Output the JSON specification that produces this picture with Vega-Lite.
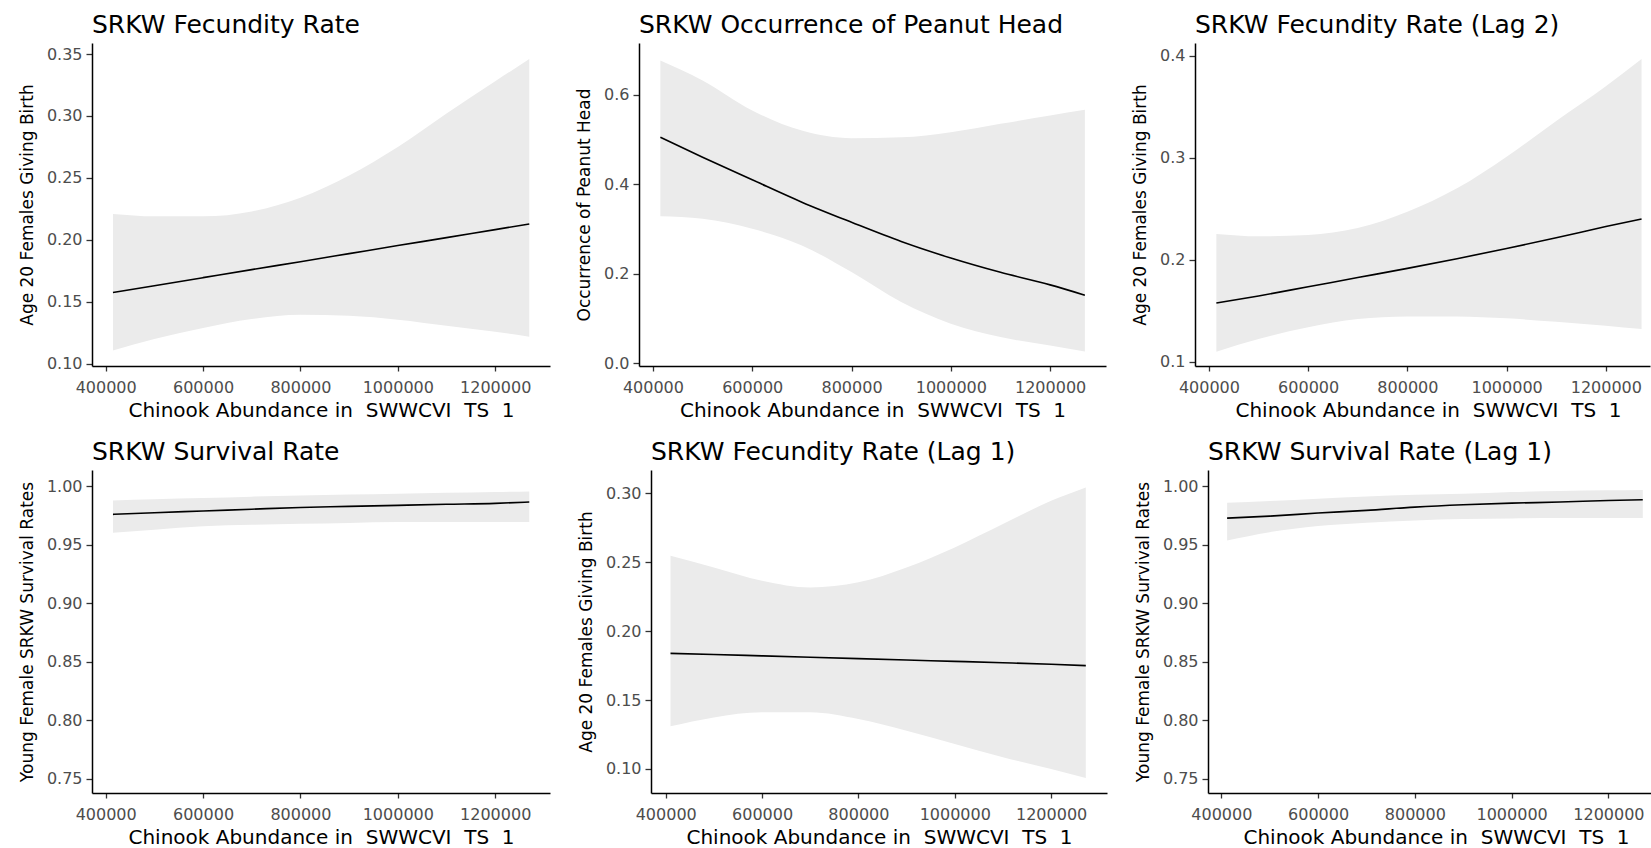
{
  "$schema": "https://vega.github.io/schema/vega-lite/v6.json",
  "background": "white",
  "padding": {"left": 18, "top": 13, "right": 0, "bottom": 0},
  "config": {
    "font": "DejaVu Sans",
    "view": {"stroke": null},
    "axis": {"grid": false, "domainColor": "#000000", "domainWidth": 1.5, "tickColor": "#333333", "tickWidth": 1.3, "labelFont": "DejaVu Sans", "labelFontSize": 16, "labelColor": "#4D4D4D", "titleFont": "DejaVu Sans", "titleFontWeight": "normal", "titleColor": "#000000"},
    "axisX": {"titleFontSize": 20, "tickSize": 5, "labelPadding": 8, "titlePadding": 5, "labelFlush": false},
    "axisY": {"titleFontSize": 17, "tickSize": 6, "labelPadding": 4, "titlePadding": 10},
    "title": {"font": "DejaVu Sans", "fontSize": 25, "fontWeight": "normal", "anchor": "start", "color": "#000000", "offset": 5, "frame": "group"}
  },
  "datasets": {
    "p1": [
      {"x": 415000, "lower": 0.1107, "fit": 0.1575, "upper": 0.2209},
      {"x": 500000, "lower": 0.1200, "fit": 0.1630, "upper": 0.2190},
      {"x": 600000, "lower": 0.1289, "fit": 0.1695, "upper": 0.2190},
      {"x": 700000, "lower": 0.1361, "fit": 0.1760, "upper": 0.2230},
      {"x": 800000, "lower": 0.1396, "fit": 0.1824, "upper": 0.2340},
      {"x": 900000, "lower": 0.1388, "fit": 0.1889, "upper": 0.2520},
      {"x": 1000000, "lower": 0.1356, "fit": 0.1954, "upper": 0.2750},
      {"x": 1100000, "lower": 0.1307, "fit": 0.2018, "upper": 0.3020},
      {"x": 1200000, "lower": 0.1259, "fit": 0.2083, "upper": 0.3280},
      {"x": 1270000, "lower": 0.1219, "fit": 0.2128, "upper": 0.3460}
    ],
    "p2": [
      {"x": 415000, "lower": 0.3287, "fit": 0.5053, "upper": 0.6768},
      {"x": 500000, "lower": 0.3227, "fit": 0.4606, "upper": 0.6320},
      {"x": 600000, "lower": 0.3004, "fit": 0.4100, "upper": 0.5650},
      {"x": 700000, "lower": 0.2631, "fit": 0.3600, "upper": 0.5200},
      {"x": 800000, "lower": 0.2035, "fit": 0.3150, "upper": 0.5030},
      {"x": 900000, "lower": 0.1364, "fit": 0.2720, "upper": 0.5050},
      {"x": 1000000, "lower": 0.0880, "fit": 0.2350, "upper": 0.5165},
      {"x": 1100000, "lower": 0.0581, "fit": 0.2030, "upper": 0.5352},
      {"x": 1200000, "lower": 0.0395, "fit": 0.1750, "upper": 0.5538},
      {"x": 1270000, "lower": 0.0261, "fit": 0.1520, "upper": 0.5665}
    ],
    "p3": [
      {"x": 415000, "lower": 0.1098, "fit": 0.1575, "upper": 0.2252},
      {"x": 500000, "lower": 0.1222, "fit": 0.1645, "upper": 0.2229},
      {"x": 600000, "lower": 0.1337, "fit": 0.1735, "upper": 0.2242},
      {"x": 700000, "lower": 0.1418, "fit": 0.1825, "upper": 0.2310},
      {"x": 800000, "lower": 0.1444, "fit": 0.1915, "upper": 0.2470},
      {"x": 900000, "lower": 0.1444, "fit": 0.2010, "upper": 0.2700},
      {"x": 1000000, "lower": 0.1425, "fit": 0.2110, "upper": 0.3010},
      {"x": 1100000, "lower": 0.1392, "fit": 0.2215, "upper": 0.3360},
      {"x": 1200000, "lower": 0.1353, "fit": 0.2325, "upper": 0.3700},
      {"x": 1272000, "lower": 0.1320, "fit": 0.2400, "upper": 0.3967}
    ],
    "p4": [
      {"x": 415000, "lower": 0.9604, "fit": 0.9761, "upper": 0.9880},
      {"x": 500000, "lower": 0.9630, "fit": 0.9775, "upper": 0.9890},
      {"x": 600000, "lower": 0.9660, "fit": 0.9790, "upper": 0.9900},
      {"x": 700000, "lower": 0.9672, "fit": 0.9805, "upper": 0.9912},
      {"x": 800000, "lower": 0.9680, "fit": 0.9820, "upper": 0.9923},
      {"x": 900000, "lower": 0.9688, "fit": 0.9829, "upper": 0.9930},
      {"x": 1000000, "lower": 0.9695, "fit": 0.9838, "upper": 0.9937},
      {"x": 1100000, "lower": 0.9695, "fit": 0.9847, "upper": 0.9945},
      {"x": 1200000, "lower": 0.9695, "fit": 0.9855, "upper": 0.9952},
      {"x": 1270000, "lower": 0.9695, "fit": 0.9866, "upper": 0.9957}
    ],
    "p5": [
      {"x": 410000, "lower": 0.1309, "fit": 0.1838, "upper": 0.2546},
      {"x": 500000, "lower": 0.1374, "fit": 0.1830, "upper": 0.2461},
      {"x": 600000, "lower": 0.1411, "fit": 0.1820, "upper": 0.2365},
      {"x": 700000, "lower": 0.1411, "fit": 0.1810, "upper": 0.2316},
      {"x": 800000, "lower": 0.1362, "fit": 0.1800, "upper": 0.2353},
      {"x": 900000, "lower": 0.1278, "fit": 0.1790, "upper": 0.2461},
      {"x": 1000000, "lower": 0.1181, "fit": 0.1780, "upper": 0.2606},
      {"x": 1100000, "lower": 0.1085, "fit": 0.1770, "upper": 0.2775},
      {"x": 1200000, "lower": 0.1000, "fit": 0.1759, "upper": 0.2944},
      {"x": 1272000, "lower": 0.0935, "fit": 0.1749, "upper": 0.3041}
    ],
    "p6": [
      {"x": 412000, "lower": 0.9538, "fit": 0.9729, "upper": 0.9860},
      {"x": 500000, "lower": 0.9609, "fit": 0.9746, "upper": 0.9875},
      {"x": 600000, "lower": 0.9661, "fit": 0.9772, "upper": 0.9895},
      {"x": 700000, "lower": 0.9689, "fit": 0.9795, "upper": 0.9914},
      {"x": 800000, "lower": 0.9709, "fit": 0.9823, "upper": 0.9929},
      {"x": 900000, "lower": 0.9721, "fit": 0.9843, "upper": 0.9937},
      {"x": 1000000, "lower": 0.9726, "fit": 0.9857, "upper": 0.9952},
      {"x": 1100000, "lower": 0.9729, "fit": 0.9866, "upper": 0.9960},
      {"x": 1200000, "lower": 0.9729, "fit": 0.9880, "upper": 0.9966},
      {"x": 1271000, "lower": 0.9729, "fit": 0.9886, "upper": 0.9969}
    ]
  },
  "bounds": "flush",
  "spacing": 427,
  "vconcat": [
    {
      "bounds": "flush",
      "spacing": 89,
      "hconcat": [
        {
          "width": 458, "height": 323,
          "title": "SRKW Fecundity Rate",
          "data": {"name": "p1"},
          "encoding": {"x": {"field": "x", "type": "quantitative", "scale": {"domain": [371945, 1312555], "nice": false, "zero": false}, "axis": {"values": [400000, 600000, 800000, 1000000, 1200000], "format": "d", "title": "Chinook Abundance in \u00a0SWWCVI \u00a0TS \u00a01"}}},
          "layer": [
            {"mark": {"type": "area", "color": "#EBEBEB", "opacity": 1, "interpolate": "monotone"}, "encoding": {"y": {"field": "lower", "type": "quantitative", "scale": {"domain": [0.0982, 0.3589], "nice": false, "zero": false}, "axis": {"values": [0.1, 0.15, 0.2, 0.25, 0.3, 0.35], "format": ".2f", "title": "Age 20 Females Giving Birth"}}, "y2": {"field": "upper"}}},
            {"mark": {"type": "line", "color": "#000000", "strokeWidth": 1.6, "interpolate": "monotone"}, "encoding": {"y": {"field": "fit", "type": "quantitative", "axis": {"values": [0.1, 0.15, 0.2, 0.25, 0.3, 0.35], "format": ".2f", "title": "Age 20 Females Giving Birth"}}}}
          ]
        },
        {
          "width": 467, "height": 323,
          "title": "SRKW Occurrence of Peanut Head",
          "data": {"name": "p2"},
          "encoding": {"x": {"field": "x", "type": "quantitative", "scale": {"domain": [371945, 1312555], "nice": false, "zero": false}, "axis": {"values": [400000, 600000, 800000, 1000000, 1200000], "format": "d", "title": "Chinook Abundance in \u00a0SWWCVI \u00a0TS \u00a01"}}},
          "layer": [
            {"mark": {"type": "area", "color": "#EBEBEB", "opacity": 1, "interpolate": "monotone"}, "encoding": {"y": {"field": "lower", "type": "quantitative", "scale": {"domain": [-0.0065, 0.716], "nice": false, "zero": false}, "axis": {"values": [0, 0.2, 0.4, 0.6], "format": ".1f", "title": "Occurrence of Peanut Head"}}, "y2": {"field": "upper"}}},
            {"mark": {"type": "line", "color": "#000000", "strokeWidth": 1.6, "interpolate": "monotone"}, "encoding": {"y": {"field": "fit", "type": "quantitative", "axis": {"values": [0, 0.2, 0.4, 0.6], "format": ".1f", "title": "Occurrence of Peanut Head"}}}}
          ]
        },
        {
          "width": 455, "height": 323,
          "title": "SRKW Fecundity Rate (Lag 2)",
          "data": {"name": "p3"},
          "encoding": {"x": {"field": "x", "type": "quantitative", "scale": {"domain": [371945, 1289000], "nice": false, "zero": false}, "axis": {"values": [400000, 600000, 800000, 1000000, 1200000], "format": "d", "title": "Chinook Abundance in \u00a0SWWCVI \u00a0TS \u00a01", "titleX": 233}}},
          "layer": [
            {"mark": {"type": "area", "color": "#EBEBEB", "opacity": 1, "interpolate": "monotone"}, "encoding": {"y": {"field": "lower", "type": "quantitative", "scale": {"domain": [0.0958, 0.4125], "nice": false, "zero": false}, "axis": {"values": [0.1, 0.2, 0.3, 0.4], "format": ".1f", "title": "Age 20 Females Giving Birth"}}, "y2": {"field": "upper"}}},
            {"mark": {"type": "line", "color": "#000000", "strokeWidth": 1.6, "interpolate": "monotone"}, "encoding": {"y": {"field": "fit", "type": "quantitative", "axis": {"values": [0.1, 0.2, 0.3, 0.4], "format": ".1f", "title": "Age 20 Females Giving Birth"}}}}
          ]
        }
      ]
    },
    {
      "bounds": "flush",
      "spacing": 101,
      "hconcat": [
        {
          "width": 458, "height": 323,
          "title": "SRKW Survival Rate",
          "data": {"name": "p4"},
          "encoding": {"x": {"field": "x", "type": "quantitative", "scale": {"domain": [371945, 1312555], "nice": false, "zero": false}, "axis": {"values": [400000, 600000, 800000, 1000000, 1200000], "format": "d", "title": "Chinook Abundance in \u00a0SWWCVI \u00a0TS \u00a01"}}},
          "layer": [
            {"mark": {"type": "area", "color": "#EBEBEB", "opacity": 1, "interpolate": "monotone"}, "encoding": {"y": {"field": "lower", "type": "quantitative", "scale": {"domain": [0.738, 1.014], "nice": false, "zero": false}, "axis": {"values": [0.75, 0.8, 0.85, 0.9, 0.95, 1.0], "format": ".2f", "title": "Young Female SRKW Survival Rates"}}, "y2": {"field": "upper"}}},
            {"mark": {"type": "line", "color": "#000000", "strokeWidth": 1.6, "interpolate": "monotone"}, "encoding": {"y": {"field": "fit", "type": "quantitative", "axis": {"values": [0.75, 0.8, 0.85, 0.9, 0.95, 1.0], "format": ".2f", "title": "Young Female SRKW Survival Rates"}}}}
          ]
        },
        {
          "width": 456, "height": 323,
          "title": "SRKW Fecundity Rate (Lag 1)",
          "data": {"name": "p5"},
          "encoding": {"x": {"field": "x", "type": "quantitative", "scale": {"domain": [369500, 1316000], "nice": false, "zero": false}, "axis": {"values": [400000, 600000, 800000, 1000000, 1200000], "format": "d", "title": "Chinook Abundance in \u00a0SWWCVI \u00a0TS \u00a01"}}},
          "layer": [
            {"mark": {"type": "area", "color": "#EBEBEB", "opacity": 1, "interpolate": "monotone"}, "encoding": {"y": {"field": "lower", "type": "quantitative", "scale": {"domain": [0.0826, 0.3167], "nice": false, "zero": false}, "axis": {"values": [0.1, 0.15, 0.2, 0.25, 0.3], "format": ".2f", "title": "Age 20 Females Giving Birth"}}, "y2": {"field": "upper"}}},
            {"mark": {"type": "line", "color": "#000000", "strokeWidth": 1.6, "interpolate": "monotone"}, "encoding": {"y": {"field": "fit", "type": "quantitative", "axis": {"values": [0.1, 0.15, 0.2, 0.25, 0.3], "format": ".2f", "title": "Age 20 Females Giving Birth"}}}}
          ]
        },
        {
          "width": 443, "height": 323,
          "title": "SRKW Survival Rate (Lag 1)",
          "data": {"name": "p6"},
          "encoding": {"x": {"field": "x", "type": "quantitative", "scale": {"domain": [372500, 1288000], "nice": false, "zero": false}, "axis": {"values": [400000, 600000, 800000, 1000000, 1200000], "format": "d", "title": "Chinook Abundance in \u00a0SWWCVI \u00a0TS \u00a01", "titleX": 228}}},
          "layer": [
            {"mark": {"type": "area", "color": "#EBEBEB", "opacity": 1, "interpolate": "monotone"}, "encoding": {"y": {"field": "lower", "type": "quantitative", "scale": {"domain": [0.738, 1.014], "nice": false, "zero": false}, "axis": {"values": [0.75, 0.8, 0.85, 0.9, 0.95, 1.0], "format": ".2f", "title": "Young Female SRKW Survival Rates"}}, "y2": {"field": "upper"}}},
            {"mark": {"type": "line", "color": "#000000", "strokeWidth": 1.6, "interpolate": "monotone"}, "encoding": {"y": {"field": "fit", "type": "quantitative", "axis": {"values": [0.75, 0.8, 0.85, 0.9, 0.95, 1.0], "format": ".2f", "title": "Young Female SRKW Survival Rates"}}}}
          ]
        }
      ]
    }
  ]
}
